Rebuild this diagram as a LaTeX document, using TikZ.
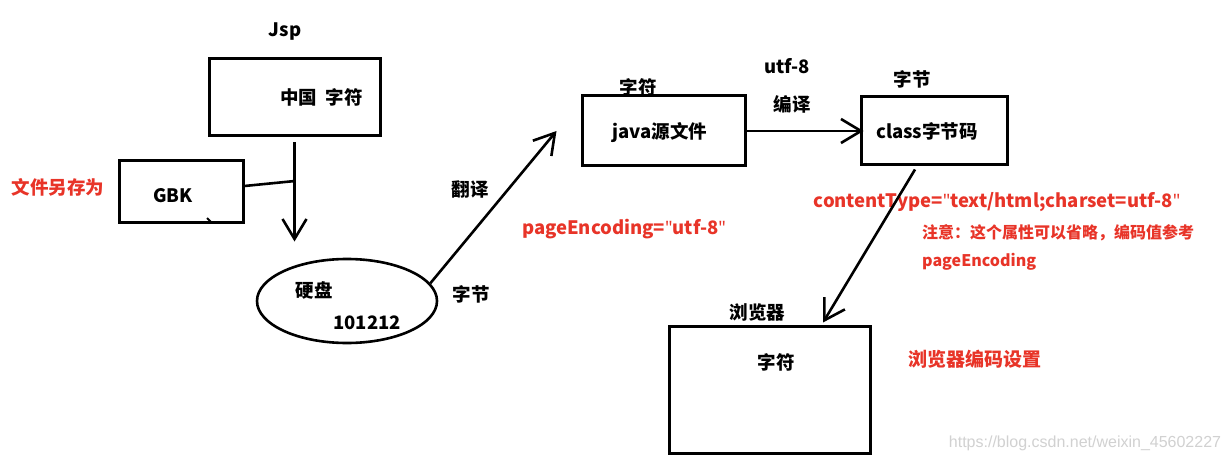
\documentclass[tikz,border=0pt]{standalone}
\usepackage{fontspec}
\setmainfont{Noto Sans CJK SC}
\newfontfamily\wmfont{Liberation Sans}
\newfontfamily\qfont{Noto Sans}
\newcommand{\qm}{{\qfont\bfseries"}}
\usetikzlibrary{arrows.meta,calc,shapes.geometric}
\definecolor{noteRed}{RGB}{232,52,40}
\begin{document}
\begin{tikzpicture}[x=1pt,y=-1pt,
  box/.style={draw, line width=3pt, inner sep=0pt},
  txt/.style={font=\bfseries\fontsize{18.5}{21}\selectfont, inner sep=0pt},
  redtxt/.style={txt, text=noteRed},
  notetxt/.style={font=\bfseries\fontsize{16}{19}\selectfont, inner sep=0pt, text=noteRed, anchor=west},
  arr/.style={line width=2.6pt, -{Straight Barb[length=20pt,width=24pt,line width=2.6pt]}},
  plainline/.style={line width=2.6pt}
]
\useasboundingbox[fill=white] (0,0) rectangle (1230,462);

% boxes
\node[box, minimum width=171pt, minimum height=77pt] (jsp) at (294.5,97.5) {};
\node[box, minimum width=124pt, minimum height=62pt] (gbkbox) at (181,192) {};
\node[draw, ellipse, line width=2.6pt, inner sep=0pt, minimum width=180pt, minimum height=84pt] (disk) at (347,301) {};
\node[box, minimum width=163pt, minimum height=70pt] (java) at (663.5,131) {};
\node[box, minimum width=146pt, minimum height=68pt] (class) at (934,131) {};
\node[box, minimum width=201pt, minimum height=127pt] (browser) at (769.5,389.5) {};

% texts
\node[txt] (jsplabel) at (285,32) {Jsp};
\node[txt] (zg) at (321.5,97) {中国\ \ 字符};
\node[txt] (gbk) at (173,196) {GBK};
\node[redtxt] (saveas) at (58,187) {文件另存为};
\node[txt] (yp) at (314,290) {硬盘};
\node[txt] (bits) at (367,323) {101212};
\node[txt] (zj1) at (471,294) {字节};
\node[txt] (fy) at (470,189) {翻译};
\node[redtxt] (pe) at (624,229) {pageEncoding=\qm utf-8\qm};
\node[txt] (javat) at (660,133) {java源文件};
\node[txt] (zf1) at (638,87) {字符};
\node[txt] (utf) at (787,66) {utf-8};
\node[txt] (by) at (792,104) {编译};
\node[txt] (classt) at (927,131) {class字节码};
\node[txt] (zj2) at (912,79) {字节};
\node[redtxt] (ct) at (997,202) {contentType=\qm text/html;charset=utf-8\qm};
\node[notetxt] (note1) at (922,233) {注意：这个属性可以省略，编码值参考};
\node[notetxt] (note2) at (922,262) {pageEncoding};
\node[txt] (llq) at (757.5,312) {浏览器};
\node[txt] (zf2) at (776,362) {字符};
\node[redtxt, font=\bfseries\fontsize{19}{22}\selectfont] (bset) at (975,359) {浏览器编码设置};
\node[inner sep=0pt, text=black!18, font=\wmfont\fontsize{16}{18}\selectfont] (wm) at (1085,443) {https://blog.csdn.net/weixin\_45602227};

% connectors
\coordinate (joint) at (295,181);
\draw[arr] ([yshift=-5pt]jsp.south) -- ([yshift=-104pt]jsp.south);
\draw[plainline] ([yshift=6pt]gbkbox.east) -- (joint);
\draw[line width=2pt] (207,218) -- (211,222);
\draw[arr] (disk.12) -- ([xshift=-24pt]java.west);
\draw[arr] (java.east) -- ([xshift=4pt]class.west);
\draw[arr] ([xshift=-19pt,yshift=-3pt]class.south) -- ([xshift=53.5pt,yshift=2pt]browser.north);
\end{tikzpicture}
\end{document}
